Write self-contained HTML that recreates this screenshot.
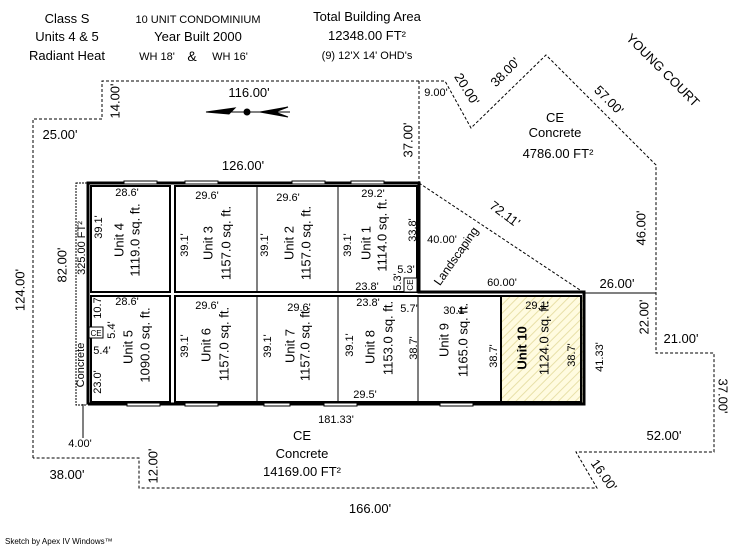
<!DOCTYPE html>
<html><head><style>
html,body{margin:0;padding:0;background:#fff;}
svg{display:block;font-family:"Liberation Sans",sans-serif;}
</style></head><body>
<svg width="746" height="547" viewBox="0 0 746 547" xmlns="http://www.w3.org/2000/svg">
<defs>
<pattern id="h" width="6" height="6" patternUnits="userSpaceOnUse" patternTransform="rotate(45)">
<rect width="6" height="6" fill="#fffbe0"/><line x1="0" y1="0" x2="0" y2="6" stroke="#e8e0a8" stroke-width="2"/>
</pattern>
</defs>
<g fill="#000" text-anchor="middle">
<text x="67" y="23" font-size="13">Class S</text>
<text x="67" y="41" font-size="13">Units 4 &amp; 5</text>
<text x="67" y="60" font-size="13">Radiant Heat</text>
<text x="198" y="23" font-size="11">10 UNIT CONDOMINIUM</text>
<text x="198" y="41" font-size="13">Year Built 2000</text>
<text x="157" y="60" font-size="11">WH 18'</text>
<text x="192" y="61" font-size="14">&amp;</text>
<text x="230" y="60" font-size="11">WH 16'</text>
<text x="367" y="21" font-size="13">Total Building Area</text>
<text x="367" y="40" font-size="13">12348.00 FT²</text>
<text x="367" y="59" font-size="11">(9) 12'X 14' OHD's</text>
</g>
<polyline fill="none" stroke="#000" stroke-width="1" stroke-dasharray="3,2" points="33,458 33,119 102,119 102,81 445,81 471,128 546,55 656,165 656,353 714,353 714,452 576,452 597,488 139,488 139,458 33,458"/>
<line x1="419" y1="81" x2="419" y2="183" stroke="#000" stroke-dasharray="3,2"/>
<line x1="419" y1="183" x2="583" y2="292" stroke="#000" stroke-dasharray="3,2"/>
<line x1="583" y1="293" x2="656" y2="293" stroke="#000"/>
<line x1="83" y1="404" x2="83" y2="438" stroke="#000"/>
<rect x="76" y="183" width="11" height="222" fill="none" stroke="#000" stroke-dasharray="2,1"/>
<rect x="502" y="297" width="81" height="106" fill="url(#h)"/>
<g fill="none" stroke="#000">
<polyline stroke-width="3" points="88,404 88,183 419,183 419,292 584,292 584,404 88,404"/>
<rect x="91" y="186" width="79" height="106" stroke-width="2"/>
<rect x="91" y="296" width="79" height="106" stroke-width="2"/>
<rect x="175" y="186" width="242" height="106" stroke-width="2"/>
<rect x="175" y="296" width="406" height="106" stroke-width="2"/>
<line x1="257" y1="186" x2="257" y2="292"/>
<line x1="338" y1="186" x2="338" y2="292"/>
<line x1="257" y1="296" x2="257" y2="402"/>
<line x1="338" y1="296" x2="338" y2="402"/>
<line x1="418" y1="296" x2="418" y2="402"/>
<line x1="501" y1="296" x2="501" y2="402" stroke-width="2"/>
<rect x="404" y="278" width="13" height="14" fill="#fff"/>
<rect x="89" y="327" width="14" height="11" fill="#fff"/>
</g>
<g fill="#fff" stroke="#000" stroke-width="1">
<rect x="124" y="181" width="33" height="3"/><rect x="185" y="181" width="33" height="3"/>
<rect x="292" y="181" width="33" height="3"/><rect x="351" y="181" width="33" height="3"/>
<rect x="127" y="403" width="33" height="3"/><rect x="185" y="403" width="33" height="3"/>
<rect x="264" y="403" width="26" height="3"/><rect x="324" y="403" width="33" height="3"/>
<rect x="440" y="403" width="33" height="3"/>
</g>
<g font-size="8" text-anchor="middle"><text transform="translate(410 285) rotate(-90)" dy="0.35em">CE</text><text x="96" y="336">CE</text></g>
<g stroke="#000" fill="#000">
<line x1="206" y1="112" x2="290" y2="112"/>
<polygon points="206,112 235,108 229,114"/>
<circle cx="247" cy="112" r="3"/>
<polygon points="260,112 288,107 275,112 288,117"/>
</g>
<g font-size="11" text-anchor="middle" fill="#000">
<text transform="translate(20 290) rotate(-90)" dy="0.35em" font-size="13">124.00'</text>
<text transform="translate(62 265) rotate(-90)" dy="0.35em" font-size="13">82.00'</text>
<text transform="translate(81 248) rotate(-90)" dy="0.35em">325.00 FT²</text>
<text transform="translate(80 365) rotate(-90)" dy="0.35em">Concrete</text>
<text x="249" y="97" font-size="13">116.00'</text>
<text transform="translate(115 101) rotate(-90)" dy="0.35em" font-size="13">14.00'</text>
<text x="60" y="139" font-size="13">25.00'</text>
<text x="243" y="170" font-size="13">126.00'</text>
<text x="436" y="96">9.00'</text>
<text transform="translate(408 140) rotate(-90)" dy="0.35em" font-size="13">37.00'</text>
<text transform="translate(467 89) rotate(58)" dy="0.35em" font-size="13">20.00'</text>
<text transform="translate(505 72) rotate(-45)" dy="0.35em" font-size="13">38.00'</text>
<text transform="translate(609 100) rotate(45)" dy="0.35em" font-size="13">57.00'</text>
<text transform="translate(663 70) rotate(45)" dy="0.35em" font-size="13">YOUNG COURT</text>
<text x="555" y="122" font-size="13">CE</text>
<text x="555" y="137" font-size="13">Concrete</text>
<text x="558" y="158" font-size="13">4786.00 FT²</text>
<text transform="translate(505 214) rotate(37)" dy="0.35em" font-size="13">72.11'</text>
<text transform="translate(456 256) rotate(-55)" dy="0.35em" font-size="12">Landscaping</text>
<text x="442" y="243">40.00'</text>
<text x="502" y="286">60.00'</text>
<text x="617" y="288" font-size="13">26.00'</text>
<text transform="translate(641 228) rotate(-90)" dy="0.35em" font-size="13">46.00'</text>
<text transform="translate(644 317) rotate(-90)" dy="0.35em" font-size="13">22.00'</text>
<text x="681" y="343" font-size="13">21.00'</text>
<text transform="translate(599 357) rotate(-90)" dy="0.35em">41.33'</text>
<text transform="translate(723 396) rotate(90)" dy="0.35em" font-size="13">37.00'</text>
<text x="664" y="440" font-size="13">52.00'</text>
<text transform="translate(604 475) rotate(55)" dy="0.35em" font-size="13">16.00'</text>
<text x="336" y="423">181.33'</text>
<text x="302" y="440" font-size="13">CE</text>
<text x="302" y="458" font-size="13">Concrete</text>
<text x="302" y="476" font-size="13">14169.00 FT²</text>
<text x="80" y="447">4.00'</text>
<text x="67" y="479" font-size="13">38.00'</text>
<text transform="translate(153 466) rotate(-90)" dy="0.35em" font-size="13">12.00'</text>
<text x="370" y="513" font-size="13">166.00'</text>
</g>
<text x="5" y="544" font-size="8">Sketch by Apex IV Windows™</text>
<g text-anchor="middle" fill="#000" font-size="11">
<text x="127" y="196">28.6'</text>
<text x="207" y="199">29.6'</text>
<text x="288" y="201">29.6'</text>
<text x="373" y="197">29.2'</text>
<text x="406" y="273">5.3'</text>
<text x="367" y="290">23.8'</text>
<text x="127" y="305">28.6'</text>
<text x="207" y="309">29.6'</text>
<text x="299" y="311">29.6'</text>
<text x="368" y="306">23.8'</text>
<text x="409" y="312">5.7'</text>
<text x="455" y="314">30.1'</text>
<text x="537" y="309">29.1'</text>
<text x="365" y="398">29.5'</text>
<text x="102" y="354">5.4'</text>
<text transform="translate(98 227) rotate(-90)" dy="0.35em">39.1'</text>
<text transform="translate(184 245) rotate(-90)" dy="0.35em">39.1'</text>
<text transform="translate(264 245) rotate(-90)" dy="0.35em">39.1'</text>
<text transform="translate(347 245) rotate(-90)" dy="0.35em">39.1'</text>
<text transform="translate(412 230) rotate(-90)" dy="0.35em">33.8'</text>
<text transform="translate(397 282) rotate(-90)" dy="0.35em">5.3'</text>
<text transform="translate(97 308) rotate(-90)" dy="0.35em">10.7</text>
<text transform="translate(111 330) rotate(-90)" dy="0.35em">5.4'</text>
<text transform="translate(97 382) rotate(-90)" dy="0.35em">23.0'</text>
<text transform="translate(184 346) rotate(-90)" dy="0.35em">39.1'</text>
<text transform="translate(267 346) rotate(-90)" dy="0.35em">39.1'</text>
<text transform="translate(349 345) rotate(-90)" dy="0.35em">39.1'</text>
<text transform="translate(413 348) rotate(-90)" dy="0.35em">38.7'</text>
<text transform="translate(493 356) rotate(-90)" dy="0.35em">38.7'</text>
<text transform="translate(571 355) rotate(-90)" dy="0.35em">38.7'</text>
<g font-size="13">
<text transform="translate(119 240) rotate(-90)" dy="0.35em">Unit 4</text>
<text transform="translate(135 240) rotate(-90)" dy="0.35em">1119.0 sq. ft.</text>
<text transform="translate(208 243) rotate(-90)" dy="0.35em">Unit 3</text>
<text transform="translate(226 243) rotate(-90)" dy="0.35em">1157.0 sq. ft.</text>
<text transform="translate(289 243) rotate(-90)" dy="0.35em">Unit 2</text>
<text transform="translate(306 243) rotate(-90)" dy="0.35em">1157.0 sq. ft.</text>
<text transform="translate(366 243) rotate(-90)" dy="0.35em">Unit 1</text>
<text transform="translate(382 235) rotate(-90)" dy="0.35em">1114.0 sq. ft.</text>
<text transform="translate(128 347) rotate(-90)" dy="0.35em">Unit 5</text>
<text transform="translate(145 345) rotate(-90)" dy="0.35em">1090.0 sq. ft.</text>
<text transform="translate(206 345) rotate(-90)" dy="0.35em">Unit 6</text>
<text transform="translate(224 344) rotate(-90)" dy="0.35em">1157.0 sq. ft.</text>
<text transform="translate(290 346) rotate(-90)" dy="0.35em">Unit 7</text>
<text transform="translate(305 344) rotate(-90)" dy="0.35em">1157.0 sq. ft.</text>
<text transform="translate(370 347) rotate(-90)" dy="0.35em">Unit 8</text>
<text transform="translate(388 338) rotate(-90)" dy="0.35em">1153.0 sq. ft.</text>
<text transform="translate(444 340) rotate(-90)" dy="0.35em">Unit 9</text>
<text transform="translate(463 340) rotate(-90)" dy="0.35em">1165.0 sq. ft.</text>
<text transform="translate(522 348) rotate(-90)" dy="0.35em" font-weight="bold">Unit 10</text>
<text transform="translate(544 338) rotate(-90)" dy="0.35em">1124.0 sq. ft.</text>
</g>
</g>
</svg>
</body></html>
